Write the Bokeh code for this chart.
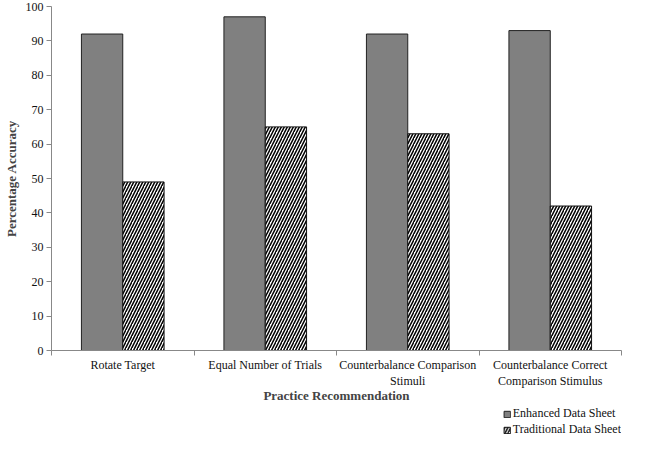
from bokeh.plotting import figure
from bokeh.layouts import column
from bokeh.models import ColumnDataSource, FixedTicker, Legend, LegendItem, Range1d
from bokeh.embed import file_html
from bokeh.resources import INLINE

categories = ["Rotate Target", "Equal Number of Trials",
              "Counterbalance Comparison\nStimuli",
              "Counterbalance Correct\nComparison Stimulus"]
series_names = ["Enhanced Data Sheet", "Traditional Data Sheet"]
enhanced = [92, 97, 92, 93]
traditional = [49, 65, 63, 42]
y_ticks = [0, 10, 20, 30, 40, 50, 60, 70, 80, 90, 100]

FONT = "Liberation Serif"
idx = list(range(len(categories)))
centers = [i + 0.5 for i in idx]
bw = 0.29

src_e = ColumnDataSource(dict(x=[c - bw / 2 for c in centers], top=enhanced))
src_t = ColumnDataSource(dict(x=[c + bw / 2 for c in centers], top=traditional))

enh_style = dict(fill_color="#808080", line_color="#222222", line_width=1)
trad_style = dict(fill_color="white", line_color="#111111", line_width=1,
                  hatch_pattern="/", hatch_color="black", hatch_scale=6, hatch_weight=1.5)

p = figure(width=633, height=406, output_backend="svg", toolbar_location=None,
           x_range=Range1d(0, len(categories)), y_range=Range1d(0, 100))
p.min_border_top = 6
p.min_border_right = 12
p.min_border_left = 0
p.min_border_bottom = 0
p.outline_line_color = None
p.xgrid.visible = False
p.ygrid.visible = False

p.vbar(x="x", top="top", width=bw, bottom=0, source=src_e, **enh_style)
p.vbar(x="x", top="top", width=bw, bottom=0, source=src_t, **trad_style)

# x axis
xa = p.xaxis[0]
xa.ticker = FixedTicker(ticks=centers, minor_ticks=[0] + [i + 1 for i in idx])
xa.major_label_overrides = {c: lab for c, lab in zip(centers, categories)}
xa.major_tick_line_color = None
xa.minor_tick_out = 5
xa.minor_tick_in = 0
xa.minor_tick_line_color = "#888888"
xa.axis_line_color = "#888888"
xa.major_label_text_font = FONT
xa.major_label_text_font_size = "12px"
xa.major_label_text_color = "#111111"
xa.major_label_standoff = 1
xa.axis_label = "Practice Recommendation"
xa.axis_label_text_font = FONT
xa.axis_label_text_font_size = "13px"
xa.axis_label_text_font_style = "bold"
xa.axis_label_standoff = -3

ya = p.yaxis[0]
ya.ticker = FixedTicker(ticks=y_ticks)
ya.minor_tick_line_color = None
ya.major_tick_out = 5
ya.major_tick_in = 0
ya.major_tick_line_color = "#888888"
ya.axis_line_color = "#888888"
ya.major_label_text_font = FONT
ya.major_label_text_font_size = "12px"
ya.major_label_text_color = "#111111"
ya.major_label_standoff = 3
ya.axis_label = "Percentage Accuracy"
ya.axis_label_text_font = FONT
ya.axis_label_text_font_size = "13px"
ya.axis_label_text_font_style = "bold"
ya.axis_label_standoff = 4

# legend strip below the chart (series renderers hidden, only their legend swatches show)
q = figure(width=633, height=32, output_backend="svg", toolbar_location=None,
           x_range=Range1d(0, len(categories)), y_range=Range1d(0, 100),
           x_axis_location=None, y_axis_location=None)
q.min_border = 0
q.outline_line_color = None
q.xgrid.visible = False
q.ygrid.visible = False
le = q.vbar(x="x", top="top", width=bw, bottom=0, source=src_e, visible=False, **enh_style)
lt = q.vbar(x="x", top="top", width=bw, bottom=0, source=src_t, visible=False, **trad_style)

legend = Legend(items=[LegendItem(label=series_names[0], renderers=[le]),
                       LegendItem(label=series_names[1], renderers=[lt])],
                location="top_right", orientation="vertical",
                border_line_color=None, background_fill_alpha=0,
                inactive_fill_alpha=0,
                label_text_font=FONT, label_text_font_size="12px",
                label_text_color="#111111",
                glyph_width=8, glyph_height=8, label_height=11, spacing=1,
                label_standoff=2, padding=0, margin=0)
q.add_layout(legend, "center")

layout = column(p, q, spacing=0)
open("out.html", "w").write(file_html(layout, INLINE))
